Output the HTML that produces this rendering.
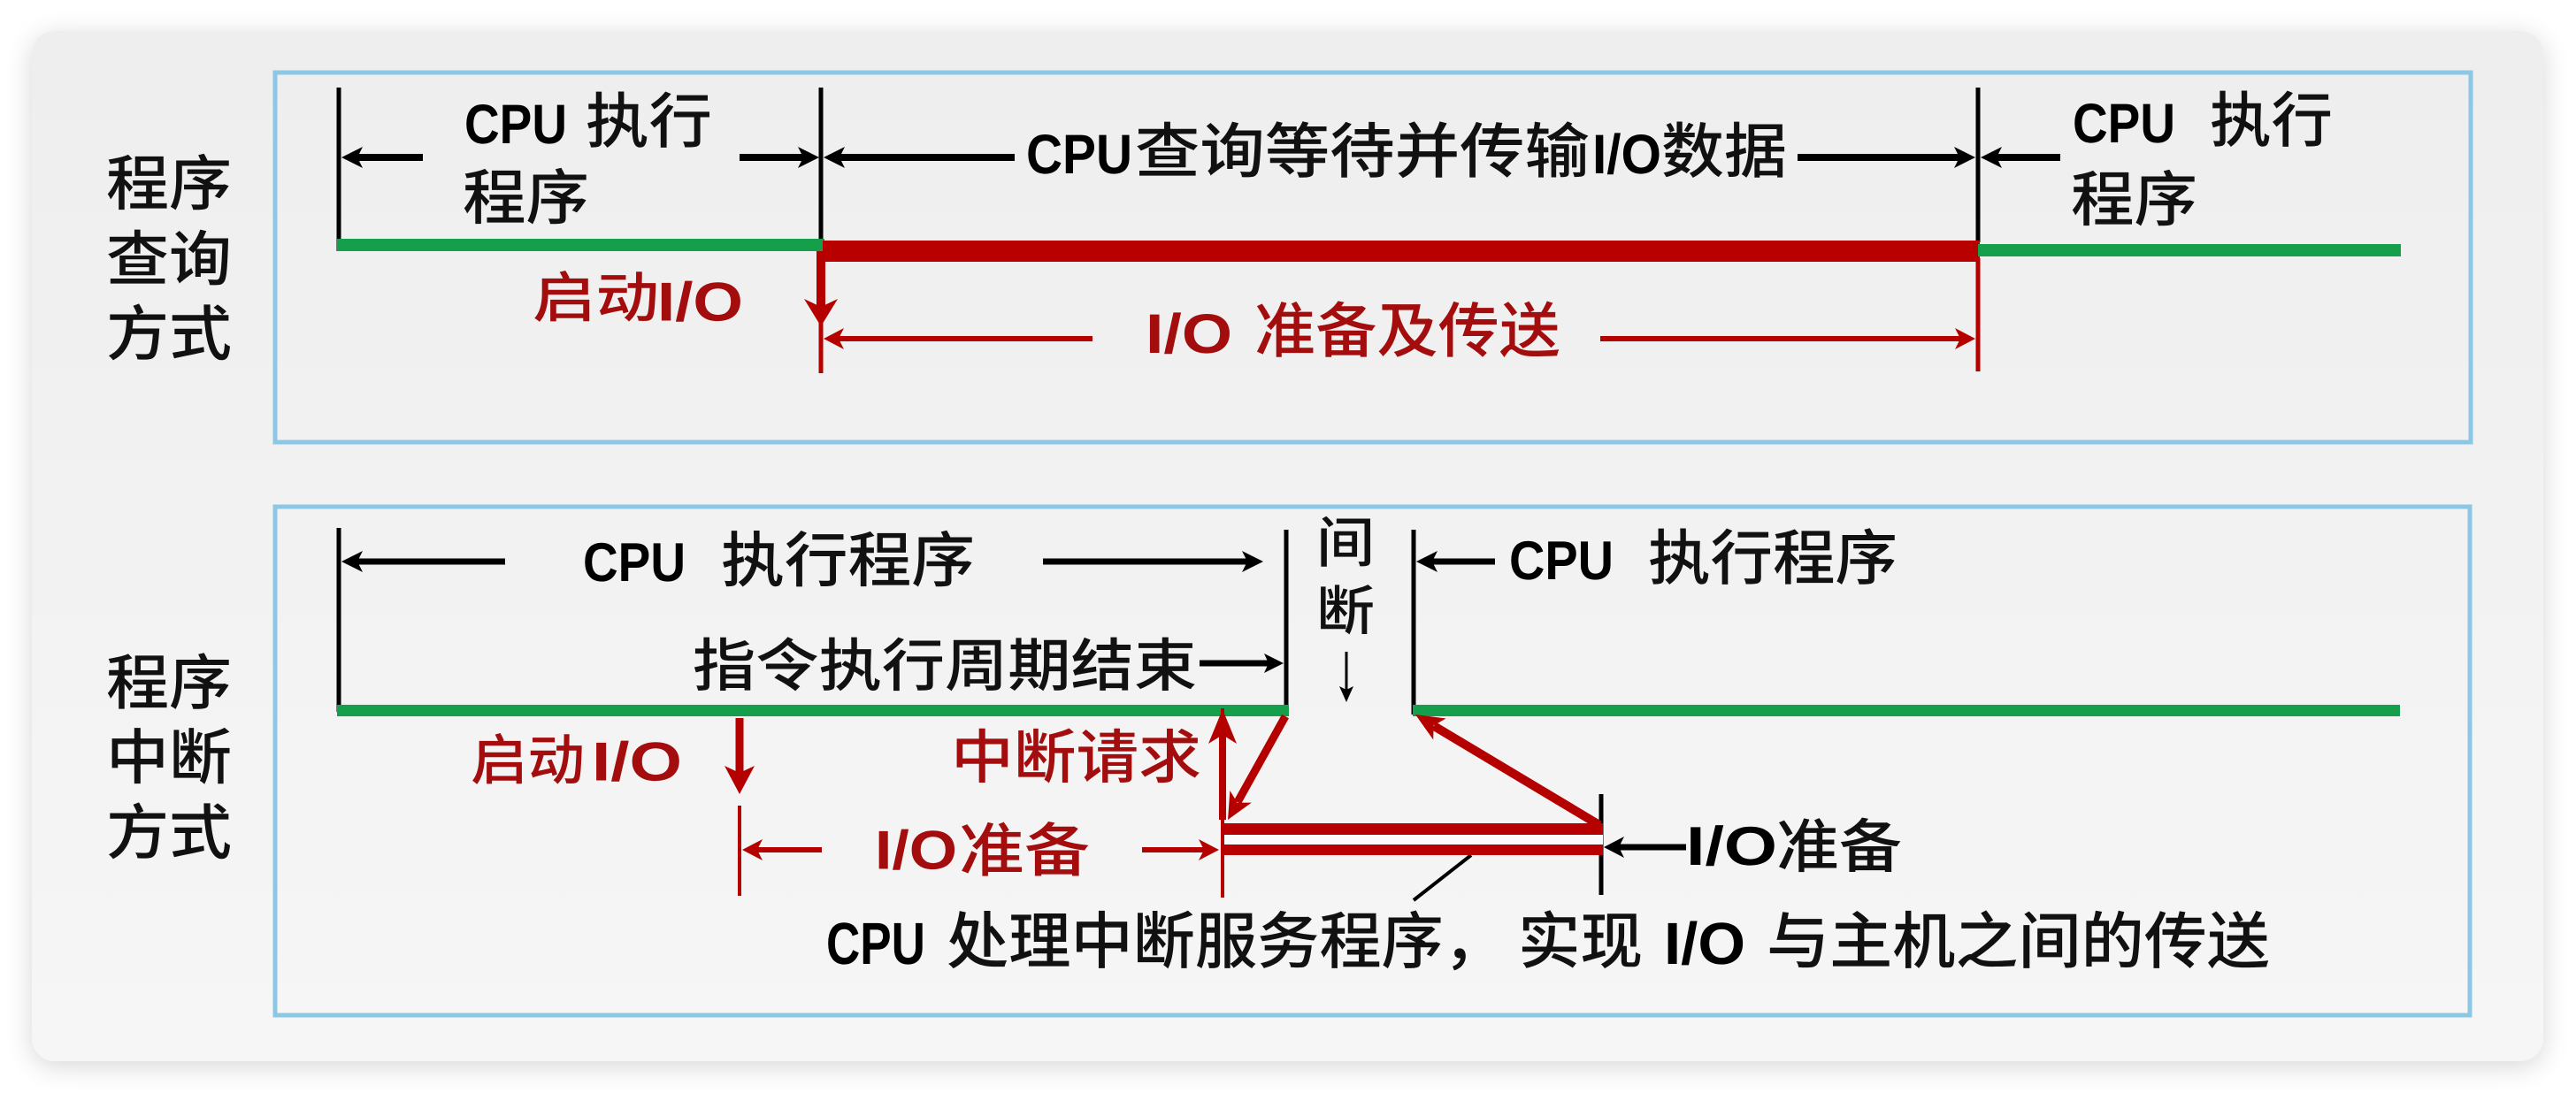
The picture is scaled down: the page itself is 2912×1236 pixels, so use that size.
<!DOCTYPE html>
<html>
<head>
<meta charset="utf-8">
<style>
html,body{margin:0;padding:0;background:#ffffff;}
body{width:2912px;height:1236px;position:relative;overflow:hidden;}
.card{position:absolute;left:36px;top:35px;width:2839px;height:1165px;border-radius:26px;
background:linear-gradient(#eeeeee,#f6f6f6);box-shadow:0 6px 30px rgba(0,0,0,0.16);}
svg{position:absolute;left:0;top:0;}
.lat{font-family:"Liberation Sans",sans-serif;font-weight:bold;}
.cjk{font-family:"Liberation Sans","Noto Sans CJK SC",sans-serif;font-weight:500;}
</style>
</head>
<body>
<div class="card"></div>
<svg width="2912" height="1236" viewBox="0 0 2912 1236" xmlns="http://www.w3.org/2000/svg">
<!-- blue boxes -->
<rect x="311" y="82" width="2482" height="418" fill="none" stroke="#8cc8e6" stroke-width="5"/>
<rect x="311" y="573" width="2481" height="575" fill="none" stroke="#8cc8e6" stroke-width="5"/>

<g text-rendering="geometricPrecision" dominant-baseline="central">
<!-- left labels -->
<text class="cjk" x="120" y="208.5" font-size="68" textLength="142" lengthAdjust="spacingAndGlyphs" fill="#111">程序</text>
<text class="cjk" x="120" y="294" font-size="68" textLength="142" lengthAdjust="spacingAndGlyphs" fill="#111">查询</text>
<text class="cjk" x="120" y="378.5" font-size="68" textLength="142" lengthAdjust="spacingAndGlyphs" fill="#111">方式</text>
<text class="cjk" x="120" y="773" font-size="68" textLength="142" lengthAdjust="spacingAndGlyphs" fill="#111">程序</text>
<text class="cjk" x="120" y="857.5" font-size="68" textLength="142" lengthAdjust="spacingAndGlyphs" fill="#111">中断</text>
<text class="cjk" x="120" y="942.5" font-size="68" textLength="142" lengthAdjust="spacingAndGlyphs" fill="#111">方式</text>

<!-- top section text -->
<text class="lat" x="525" y="141" font-size="63" textLength="116" lengthAdjust="spacingAndGlyphs" fill="#000">CPU</text>
<text class="cjk" x="662" y="138" font-size="68" textLength="143" lengthAdjust="spacingAndGlyphs" fill="#111">执行</text>
<text class="cjk" x="523" y="224.5" font-size="68" textLength="143" lengthAdjust="spacingAndGlyphs" fill="#111">程序</text>

<text class="lat" x="1160" y="175" font-size="63" textLength="120" lengthAdjust="spacingAndGlyphs" fill="#000">CPU</text>
<text class="cjk" x="1283" y="172" font-size="68" textLength="514" lengthAdjust="spacingAndGlyphs" fill="#111">查询等待并传输</text>
<text class="lat" x="1800" y="175" font-size="63" textLength="78" lengthAdjust="spacingAndGlyphs" fill="#000">I/O</text>
<text class="cjk" x="1878" y="172" font-size="68" textLength="142" lengthAdjust="spacingAndGlyphs" fill="#111">数据</text>

<text class="lat" x="2343" y="140" font-size="63" textLength="116" lengthAdjust="spacingAndGlyphs" fill="#000">CPU</text>
<text class="cjk" x="2498" y="137" font-size="68" textLength="139" lengthAdjust="spacingAndGlyphs" fill="#111">执行</text>
<text class="cjk" x="2341" y="226.5" font-size="68" textLength="143" lengthAdjust="spacingAndGlyphs" fill="#111">程序</text>

<text class="cjk" x="602" y="338" font-size="62" textLength="143" lengthAdjust="spacingAndGlyphs" fill="#a30d0d">启动</text>
<text class="lat" x="743" y="342" font-size="62" textLength="97" lengthAdjust="spacingAndGlyphs" fill="#a30d0d">I/O</text>
<text class="lat" x="1295" y="378" font-size="63" textLength="98" lengthAdjust="spacingAndGlyphs" fill="#a30d0d">I/O</text>
<text class="cjk" x="1418" y="375" font-size="68" textLength="346" lengthAdjust="spacingAndGlyphs" fill="#a30d0d">准备及传送</text>

<!-- bottom section text -->
<text class="lat" x="659" y="636.5" font-size="62" textLength="116" lengthAdjust="spacingAndGlyphs" fill="#000">CPU</text>
<text class="cjk" x="815" y="634.5" font-size="68" textLength="287" lengthAdjust="spacingAndGlyphs" fill="#111">执行程序</text>
<text class="cjk" x="783" y="753" font-size="65" textLength="570" lengthAdjust="spacingAndGlyphs" fill="#111">指令执行周期结束</text>
<text class="cjk" x="1488" y="615" font-size="62" textLength="66" lengthAdjust="spacingAndGlyphs" fill="#111">间</text>
<text class="cjk" x="1488" y="691.5" font-size="60" textLength="66" lengthAdjust="spacingAndGlyphs" fill="#111">断</text>
<text class="lat" x="1706" y="634.5" font-size="62" textLength="118" lengthAdjust="spacingAndGlyphs" fill="#000">CPU</text>
<text class="cjk" x="1863" y="632" font-size="68" textLength="282" lengthAdjust="spacingAndGlyphs" fill="#111">执行程序</text>

<text class="cjk" x="532" y="861" font-size="62" textLength="129" lengthAdjust="spacingAndGlyphs" fill="#a30d0d">启动</text>
<text class="lat" x="669" y="862" font-size="62" textLength="102" lengthAdjust="spacingAndGlyphs" fill="#a30d0d">I/O</text>
<text class="cjk" x="1075" y="856.5" font-size="66" textLength="283" lengthAdjust="spacingAndGlyphs" fill="#a30d0d">中断请求</text>
<text class="lat" x="989" y="962" font-size="62" textLength="93" lengthAdjust="spacingAndGlyphs" fill="#a30d0d">I/O</text>
<text class="cjk" x="1084" y="962" font-size="66" textLength="148" lengthAdjust="spacingAndGlyphs" fill="#a30d0d">准备</text>
<text class="lat" x="1906" y="957.5" font-size="62" textLength="103" lengthAdjust="spacingAndGlyphs" fill="#000">I/O</text>
<text class="cjk" x="2008" y="957.5" font-size="66" textLength="142" lengthAdjust="spacingAndGlyphs" fill="#111">准备</text>

<text class="lat" x="934" y="1067.5" font-size="67" textLength="112" lengthAdjust="spacingAndGlyphs" fill="#000">CPU</text>
<text class="cjk" x="1070" y="1065" font-size="70" textLength="632" lengthAdjust="spacingAndGlyphs" fill="#111">处理中断服务程序，</text>
<text class="cjk" x="1716" y="1065" font-size="70" textLength="141" lengthAdjust="spacingAndGlyphs" fill="#111">实现</text>
<text class="lat" x="1881" y="1067.5" font-size="67" textLength="92" lengthAdjust="spacingAndGlyphs" fill="#000">I/O</text>
<text class="cjk" x="1997" y="1065" font-size="70" textLength="569" lengthAdjust="spacingAndGlyphs" fill="#111">与主机之间的传送</text>
</g>

<!-- ===== TOP SECTION GRAPHICS ===== -->
<g stroke="#000" stroke-width="5" fill="none">
  <line x1="383" y1="99" x2="383" y2="284"/>
  <line x1="928" y1="99" x2="928" y2="274"/>
  <line x1="2236" y1="99" x2="2236" y2="274"/>
</g>
<rect x="381" y="270" width="551" height="14" fill="#159f4b"/>
<rect x="930" y="272" width="1308" height="24" fill="#b80000"/>
<rect x="2236" y="276" width="478" height="14" fill="#159f4b"/>

<!-- black dimension arrows top -->
<g stroke="#000" stroke-width="8">
  <line x1="400" y1="178" x2="478" y2="178"/>
  <line x1="836" y1="178" x2="910" y2="178"/>
  <line x1="945" y1="178" x2="1147" y2="178"/>
  <line x1="2032" y1="178" x2="2218" y2="178"/>
  <line x1="2252" y1="178" x2="2329" y2="178"/>
</g>
<g fill="#000">
  <polygon points="386,178 410,166 404,178 410,190"/>
  <polygon points="926,178 902,166 908,178 902,190"/>
  <polygon points="931,178 955,166 949,178 955,190"/>
  <polygon points="2233,178 2209,166 2215,178 2209,190"/>
  <polygon points="2239,178 2263,166 2257,178 2263,190"/>
</g>

<!-- red parts top -->
<g stroke="#b50000">
  <line x1="928" y1="284" x2="928" y2="350" stroke-width="10"/>
  <line x1="928" y1="345" x2="928" y2="422" stroke-width="5"/>
  <line x1="2236" y1="292" x2="2236" y2="420" stroke-width="5"/>
  <line x1="945" y1="383" x2="1235" y2="383" stroke-width="6"/>
  <line x1="1809" y1="383" x2="2220" y2="383" stroke-width="6"/>
</g>
<g fill="#b50000">
  <polygon points="928,369 909,338 928,347 947,338"/>
  <polygon points="931,383 954,371 948,383 954,395"/>
  <polygon points="2233,383 2210,371 2216,383 2210,395"/>
</g>

<!-- ===== BOTTOM SECTION GRAPHICS ===== -->
<g stroke="#000" stroke-width="5" fill="none">
  <line x1="383" y1="597" x2="383" y2="805"/>
  <line x1="1454" y1="599" x2="1454" y2="808"/>
  <line x1="1598" y1="599" x2="1598" y2="808"/>
  <line x1="1810" y1="898" x2="1810" y2="1012"/>
</g>
<rect x="381" y="797" width="1076" height="13" fill="#159f4b"/>
<rect x="1597" y="797" width="1116" height="13" fill="#159f4b"/>

<g stroke="#000" stroke-width="7">
  <line x1="400" y1="635" x2="571" y2="635"/>
  <line x1="1179" y1="635" x2="1413" y2="635"/>
  <line x1="1616" y1="635" x2="1690" y2="635"/>
  <line x1="1356" y1="750" x2="1437" y2="750"/>
  <line x1="1827" y1="958" x2="1906" y2="958"/>
</g>
<line x1="1522" y1="737" x2="1522" y2="785" stroke="#000" stroke-width="3"/>
<line x1="1663" y1="967" x2="1598" y2="1018" stroke="#000" stroke-width="4"/>
<g fill="#000">
  <polygon points="386,635 410,623 404,635 410,647"/>
  <polygon points="1428,635 1404,623 1410,635 1404,647"/>
  <polygon points="1601,635 1625,623 1619,635 1625,647"/>
  <polygon points="1451,750 1429,739 1434,750 1429,761"/>
  <polygon points="1522,794 1514,776 1522,780 1530,776"/>
  <polygon points="1813,958 1836,946 1830,958 1836,970"/>
</g>

<!-- red bottom -->
<rect x="1382" y="944" width="430" height="11" fill="#fbfbfb"/>
<rect x="1382" y="931" width="430" height="13" fill="#b80000"/>
<rect x="1382" y="955" width="430" height="12" fill="#b80000"/>
<g stroke="#b50000">
  <line x1="836" y1="812" x2="836" y2="875" stroke-width="9"/>
  <line x1="836" y1="911" x2="836" y2="1013" stroke-width="4"/>
  <line x1="1382" y1="801" x2="1382" y2="1015" stroke-width="4"/>
  <line x1="1382" y1="927" x2="1382" y2="830" stroke-width="8"/>
  <line x1="852" y1="961" x2="929" y2="961" stroke-width="6"/>
  <line x1="1291" y1="961" x2="1362" y2="961" stroke-width="6"/>
  <line x1="1453" y1="810" x2="1399" y2="907" stroke-width="9"/>
  <line x1="1808" y1="933" x2="1621" y2="821" stroke-width="10"/>
</g>
<g fill="#b50000">
  <polygon points="836,898 819,866 836,874 853,866"/>
  <polygon points="839,961 862,949 856,961 862,973"/>
  <polygon points="1378,961 1355,949 1361,961 1355,973"/>
  <polygon points="1382,802 1366,841 1382,831 1398,841"/>
  <polygon points="1388,927 1414.8,907.6 1398.7,907.8 1390.4,894"/>
  <polygon points="1600,808 1634.6,812.5 1620.6,820.4 1620.2,836.5"/>
</g>
</svg>
</body>
</html>
